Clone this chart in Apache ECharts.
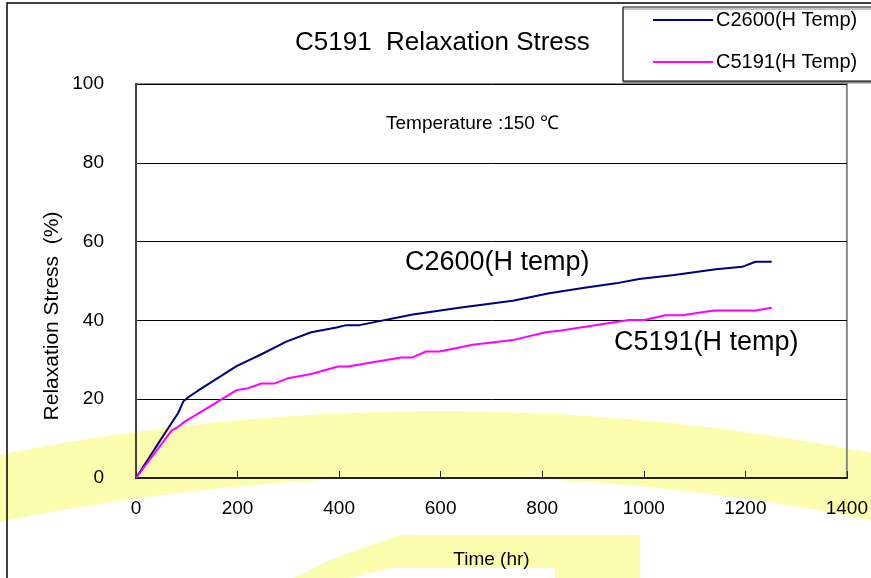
<!DOCTYPE html>
<html>
<head>
<meta charset="utf-8">
<script src="https://cdn.jsdelivr.net/npm/echarts@6/dist/echarts.min.js"></script>
<style>html,body{margin:0;padding:0;background:#fff;}#c{width:871px;height:578px;}</style>
</head>
<body>
<div id="c"></div>
<script>
var xTicks = [0, 200, 400, 600, 800, 1000, 1200, 1400];
var yTicks = [0, 20, 40, 60, 80, 100];
var seriesNames = ['C2600(H Temp)', 'C5191(H Temp)'];
var c2600Hours = [0, 50, 83, 93, 103, 126, 198, 250, 296, 345, 395, 414, 440, 545, 640, 742, 814, 880, 945, 991, 1060, 1142, 1194, 1220, 1252];
var c2600Stress = [0, 10, 16.5, 19.4, 20.5, 22.5, 28.4, 31.6, 34.6, 37, 38.2, 38.8, 38.8, 41.5, 43.3, 45, 46.9, 48.2, 49.4, 50.5, 51.5, 53, 53.6, 54.9, 54.9];
var c5191Hours = [0, 70, 83, 96, 145, 198, 221, 247, 273, 299, 345, 398, 417, 522, 545, 571, 598, 663, 742, 807, 834, 971, 1001, 1043, 1076, 1138, 1220, 1252];
var c5191Stress = [0, 12, 13, 14.3, 18.1, 22.3, 22.8, 24, 24, 25.3, 26.4, 28.3, 28.3, 30.6, 30.6, 32.1, 32.1, 33.8, 35, 37, 37.4, 40.1, 40.1, 41.3, 41.3, 42.5, 42.5, 43.2];

function pairs(xs, ys) { return xs.map(function (x, i) { return [x, ys[i]]; }); }

var FONT = '"Liberation Sans", Arial, sans-serif';
var chart = echarts.init(document.getElementById('c'));
chart.setOption({
  animation: false,
  backgroundColor: '#fff',
  title: {
    text: 'C5191  Relaxation Stress',
    left: 290, top: 25,
    textStyle: { fontFamily: FONT, fontSize: 26, fontWeight: 'normal', color: '#000' }
  },
  legend: {
    data: seriesNames,
    orient: 'vertical',
    left: 623, top: 7,
    padding: [3, 60, 9, 30],
    itemGap: 22,
    itemWidth: 60, itemHeight: 2,
    icon: 'rect',
    backgroundColor: '#fff',
    borderColor: '#000', borderWidth: 1, borderRadius: 0,
    shadowColor: '#888', shadowOffsetY: 2, shadowBlur: 0,
    textStyle: { fontFamily: FONT, fontSize: 20, color: '#000', padding: [0, 0, 0, -2] }
  },
  grid: {
    left: 136, right: 24, top: 84, bottom: 100,
    show: true, borderColor: '#888', borderWidth: 2, backgroundColor: 'transparent'
  },
  xAxis: {
    type: 'value', min: 0, max: 1400, interval: 200,
    name: 'Time (hr)', nameLocation: 'middle', nameGap: 72,
    nameTextStyle: { fontFamily: FONT, fontSize: 19, color: '#000' },
    axisLine: { show: true, lineStyle: { color: '#222', width: 2 } },
    axisTick: { show: true, inside: true, length: 7, lineStyle: { color: '#222', width: 1 } },
    axisLabel: { fontFamily: FONT, fontSize: 19, color: '#000', margin: 21, formatter: function (v) { return String(v); } },
    splitLine: { show: false }
  },
  yAxis: {
    type: 'value', min: 0, max: 100, interval: 20,
    axisLine: { show: true, lineStyle: { color: '#444', width: 2 } },
    axisTick: { show: false },
    axisLabel: { fontFamily: FONT, fontSize: 19, color: '#000', margin: 32 },
    splitLine: { show: true, lineStyle: { color: '#000', width: 1 } }
  },
  graphic: [
    { type: 'ring', z: -10, silent: true, shape: { cx: 440, cy: 2650, r: 2239, r0: 2173 }, style: { fill: '#FDFDB0' } },
    { type: 'polygon', z: -10, silent: true, shape: { points: [[294, 578], [330, 560], [370, 545], [400, 535], [640, 535], [640, 578], [555, 578], [555, 568], [390, 568], [350, 578]] }, style: { fill: '#FDFDB0' } },
    { type: 'rect', z: 100, silent: true, shape: { x: 7, y: 3, width: 900, height: 620 }, style: { fill: 'none', stroke: '#000', lineWidth: 1.5 } },
    { type: 'text', z: 100, left: 386, top: 114, style: { text: 'Temperature :150 ℃', font: '19px ' + FONT, fill: '#000' } },
    { type: 'text', z: 100, left: 405, top: 249, style: { text: 'C2600(H temp)', font: '27px ' + FONT, fill: '#000' } },
    { type: 'text', z: 100, left: 614, top: 329, style: { text: 'C5191(H temp)', font: '27px ' + FONT, fill: '#000' } },
    { type: 'text', z: 100, x: 52, y: 316, rotation: Math.PI / 2, style: { text: 'Relaxation Stress  (%)', font: '21px ' + FONT, fill: '#000', align: 'center', verticalAlign: 'middle' } }
  ],
  series: [
    { name: seriesNames[0], type: 'line', data: pairs(c2600Hours, c2600Stress), showSymbol: false, symbol: 'none', lineStyle: { color: '#000080', width: 2 }, itemStyle: { color: '#000080' } },
    { name: seriesNames[1], type: 'line', data: pairs(c5191Hours, c5191Stress), showSymbol: false, symbol: 'none', lineStyle: { color: '#FF00FF', width: 2 }, itemStyle: { color: '#FF00FF' } }
  ]
});
</script>
</body>
</html>
